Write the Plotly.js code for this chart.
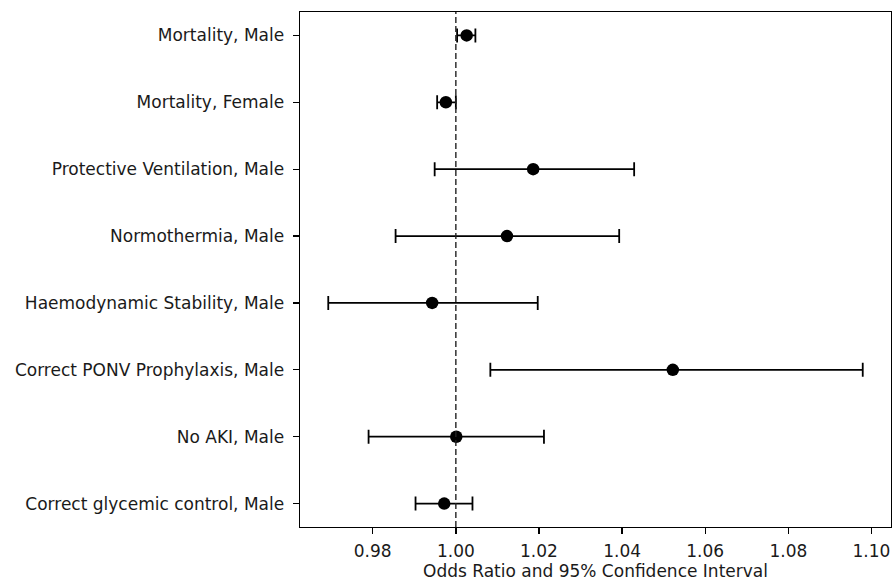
<!DOCTYPE html>
<html>
<head>
<meta charset="utf-8">
<script src="https://cdn.plot.ly/plotly-3.0.1.min.js"></script>
<style>html,body{margin:0;padding:0;background:#fff;}#chart{width:893px;height:583px;}</style>
</head>
<body>
<div id="chart"></div>
<script>
const labels = [
  "Mortality, Male",
  "Mortality, Female",
  "Protective Ventilation, Male",
  "Normothermia, Male",
  "Haemodynamic Stability, Male",
  "Correct PONV Prophylaxis, Male",
  "No AKI, Male",
  "Correct glycemic control, Male"
];
const oddsRatio = [1.0026, 0.9976, 1.0186, 1.0123, 0.9943, 1.0522, 1.0001, 0.9972];
const ciLow     = [1.0003, 0.9955, 0.9949, 0.9855, 0.9693, 1.0083, 0.9790, 0.9903];
const ciHigh    = [1.0047, 1.0000, 1.0429, 1.0393, 1.0197, 1.0979, 1.0212, 1.0040];
const xTicks = [0.98, 1.00, 1.02, 1.04, 1.06, 1.08, 1.10];

const plus = ciHigh.map((h, i) => h - oddsRatio[i]);
const minus = oddsRatio.map((v, i) => v - ciLow[i]);

const trace = {
  type: 'scatter',
  mode: 'markers',
  x: oddsRatio,
  y: labels,
  marker: {color: '#000', size: 12.5, symbol: 'circle'},
  error_x: {type: 'data', symmetric: false, array: plus, arrayminus: minus,
            color: '#000', thickness: 1.8, width: 7},
  showlegend: false,
  hoverinfo: 'x+y'
};

const font = {family: 'DejaVu Sans, sans-serif', size: 17, color: '#1a1a1a'};
const layout = {
  width: 893, height: 583,
  margin: {l: 299.5, r: 2, t: 12, b: 56},
  paper_bgcolor: '#fff', plot_bgcolor: '#fff',
  font: font,
  xaxis: {
    range: [0.9625, 1.1047],
    tickvals: xTicks,
    ticktext: xTicks.map(v => v.toFixed(2)),
    showgrid: false, zeroline: false,
    showline: true, mirror: true, linecolor: '#000', linewidth: 1.4,
    ticks: 'outside', ticklen: 6, tickwidth: 1.3, tickcolor: '#000',
    ticklabelstandoff: 2,
    tickfont: font,
    title: {text: 'Odds Ratio and 95% Confidence Interval', font: font, standoff: 4}
  },
  yaxis: {
    type: 'category',
    categoryorder: 'array', categoryarray: labels,
    range: [7.35, -0.35],
    showgrid: false, zeroline: false,
    showline: true, mirror: true, linecolor: '#000', linewidth: 1.4,
    ticks: 'outside', ticklen: 6, tickwidth: 1.3, tickcolor: '#000',
    ticklabelstandoff: 5,
    tickfont: font
  },
  shapes: [{
    type: 'line', xref: 'x', yref: 'paper', x0: 1, x1: 1, y0: 0, y1: 1,
    line: {color: '#222', width: 1.4, dash: '6px,3px'}
  }]
};

Plotly.newPlot('chart', [trace], layout, {staticPlot: true, displayModeBar: false});
</script>
</body>
</html>
